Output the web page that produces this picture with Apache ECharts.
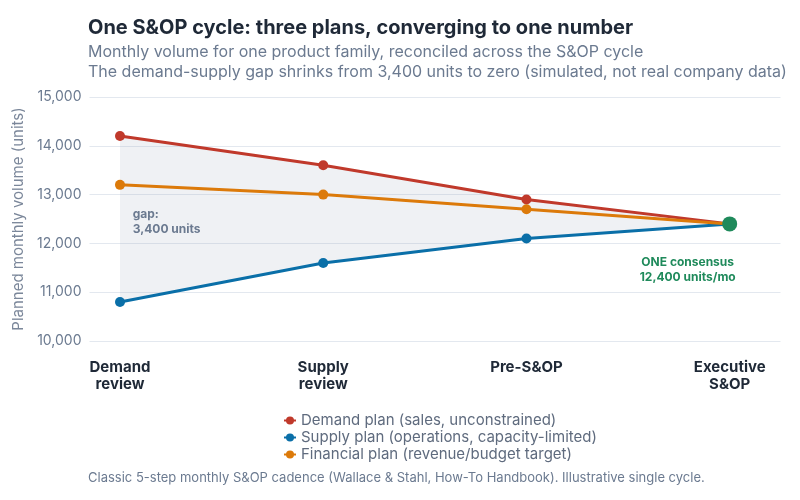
<!DOCTYPE html>
<html><head><meta charset="utf-8">
<script src="https://cdn.jsdelivr.net/npm/echarts@6/dist/echarts.min.js"></script>
<style>html,body{margin:0;padding:0;background:#fff}#c{width:800px;height:500px}</style>
</head><body><div id="c"></div>
<script>
const stages = ['Demand\nreview', 'Supply\nreview', 'Pre-S&OP', 'Executive\nS&OP'];
const demandPlan = [14200, 13600, 12900, 12400];
const supplyPlan = [10800, 11600, 12100, 12400];
const financialPlan = [13200, 13000, 12700, 12400];
const consensus = 12400;
const yTicks = [10000, 11000, 12000, 13000, 14000, 15000];

const FONT = 'Inter, "Noto Sans", sans-serif';
const pts = arr => arr.map((v, i) => [i, v]);

const chart = echarts.init(document.getElementById('c'), null, {renderer: 'canvas'});
chart.setOption({
  animation: false,
  textStyle: {fontFamily: FONT},
  title: {
    text: 'One S&OP cycle: three plans, converging to one number',
    subtext: 'Monthly volume for one product family, reconciled across the S&OP cycle\nThe demand-supply gap shrinks from 3,400 units to zero (simulated, not real company data)',
    left: 83, top: 13, itemGap: 4,
    textStyle: {fontFamily: FONT, fontSize: 20, fontWeight: 'bold', color: '#1f2937'},
    subtextStyle: {fontFamily: FONT, fontSize: 16, color: '#6b7a90', lineHeight: 20}
  },
  grid: {left: 89.5, width: 691, top: 97, bottom: 159, containLabel: false},
  xAxis: {
    type: 'value', min: -0.15, max: 3.25,
    splitLine: {show: false}, axisLine: {show: false}, axisTick: {show: false},
    axisLabel: {
      customValues: [0, 1, 2, 3],
      formatter: v => stages[Math.round(v)],
      fontFamily: FONT, fontSize: 15, fontWeight: 'bold', color: '#1f2937',
      margin: 18, lineHeight: 17, align: 'center'
    }
  },
  yAxis: {
    type: 'value', min: yTicks[0], max: yTicks[yTicks.length - 1], interval: 1000,
    name: 'Planned monthly volume (units)', nameLocation: 'middle', nameGap: 60,
    nameTextStyle: {fontFamily: FONT, fontSize: 15, color: '#7b879a'},
    axisLine: {show: false}, axisTick: {show: false},
    splitLine: {lineStyle: {color: '#e3e8ef', width: 1}},
    axisLabel: {fontFamily: FONT, fontSize: 14, color: '#6b7a90', margin: 8,
      formatter: v => v.toLocaleString('en-US')}
  },
  legend: {
    orient: 'vertical', left: 278, top: 408, itemGap: 2, itemWidth: 12, itemHeight: 10,
    data: ['Demand plan (sales, unconstrained)', 'Supply plan (operations, capacity-limited)', 'Financial plan (revenue/budget target)'],
    textStyle: {fontFamily: FONT, fontSize: 15, color: '#5f6b7e'}
  },
  graphic: [{
    type: 'text', left: 88, top: 472,
    style: {text: 'Classic 5-step monthly S&OP cadence (Wallace & Stahl, How-To Handbook). Illustrative single cycle.',
      font: '13px ' + FONT, fill: '#6b7a90'}
  }],
  series: [
    {name: 'band', type: 'custom', silent: true, z: 1,
     data: [0],
     renderItem: (params, api) => {
       const top = demandPlan.map((v, i) => api.coord([i, v]));
       const bot = supplyPlan.map((v, i) => api.coord([i, v])).reverse();
       return {type: 'polygon', shape: {points: top.concat(bot)},
         style: {fill: 'rgba(148,163,184,0.15)', stroke: 'none'}};
     },
     markPoint: {symbol: 'circle', symbolSize: 1, itemStyle: {color: 'rgba(0,0,0,0)'},
       data: [{coord: [0.06, 12440], value: 0}],
       label: {show: true, position: 'right', distance: 0, align: 'left',
         formatter: 'gap:\n' + (demandPlan[0] - supplyPlan[0]).toLocaleString('en-US') + ' units',
         fontFamily: FONT, fontSize: 12, fontWeight: 'bold', color: '#6b7a90', lineHeight: 15}}},
    {name: 'Demand plan (sales, unconstrained)', type: 'line', data: pts(demandPlan),
     color: '#c0392b', symbol: 'circle', symbolSize: 10, lineStyle: {width: 3}, z: 3},
    {name: 'Supply plan (operations, capacity-limited)', type: 'line', data: pts(supplyPlan),
     color: '#0a6fa8', symbol: 'circle', symbolSize: 10, lineStyle: {width: 3}, z: 3},
    {name: 'Financial plan (revenue/budget target)', type: 'line', data: pts(financialPlan),
     color: '#dc7a0a', symbol: 'circle', symbolSize: 10, lineStyle: {width: 3}, z: 3},
    {name: 'consensus', type: 'scatter', data: [[3, consensus]], symbolSize: 15,
     itemStyle: {color: '#1f8a5b', opacity: 1}, z: 5,
     label: {show: true, position: 'bottom', distance: 24, offset: [-42, 0],
       formatter: 'ONE consensus\n' + consensus.toLocaleString('en-US') + ' units/mo',
       fontFamily: FONT, fontSize: 12, fontWeight: 'bold', color: '#1f8a5b', lineHeight: 15, align: 'center'}}
  ]
});
</script></body></html>
